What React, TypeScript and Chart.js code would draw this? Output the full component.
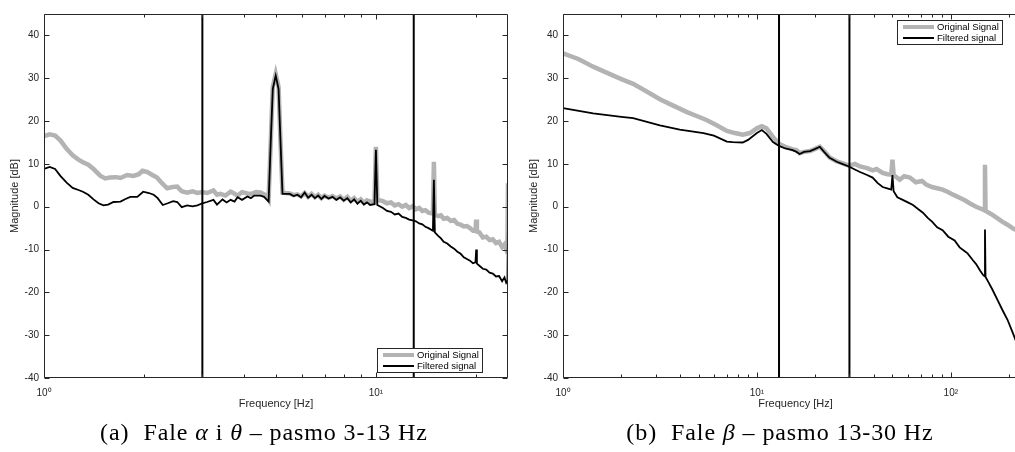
import React, { useEffect, useRef } from "react";
import { Chart, registerables } from "chart.js";

Chart.register(...registerables);

type Pt = [number, number];

// ---------- data (frequency [Hz], magnitude [dB]) ----------
const alphaOriginal: Pt[] = [
  [1.0, 16.5], [1.04, 16.9], [1.08, 16.6], [1.12, 15.5], [1.17, 13.5], [1.22, 12.0], [1.27, 11.0], [1.31, 10.4],
  [1.36, 9.8], [1.41, 8.8], [1.48, 7.2], [1.53, 6.6], [1.58, 6.8], [1.65, 6.9], [1.7, 6.7], [1.78, 7.4],
  [1.86, 7.2], [1.93, 7.6], [1.98, 8.4], [2.05, 8.1], [2.12, 7.4], [2.19, 6.8], [2.26, 5.6], [2.35, 4.3],
  [2.44, 4.6], [2.52, 4.7], [2.6, 3.6], [2.7, 3.3], [2.8, 3.6], [2.9, 3.2], [3.0, 3.4], [3.1, 3.2],
  [3.24, 3.8], [3.32, 2.8], [3.4, 3.0], [3.52, 2.6], [3.65, 3.5], [3.72, 3.2], [3.83, 2.6], [3.95, 3.4],
  [4.1, 3.1], [4.22, 3.0], [4.35, 3.4], [4.49, 3.3], [4.6, 2.9], [4.68, 2.7], [4.75, 1.8], [4.82, 15],
  [4.89, 28], [4.99, 31], [5.09, 28], [5.16, 15], [5.23, 3.3], [5.35, 3.2], [5.5, 3.1], [5.65, 2.7],
  [5.8, 2.9], [5.95, 2.4], [6.1, 3.2], [6.25, 2.3], [6.4, 3.0], [6.55, 2.2], [6.7, 2.8], [6.85, 2.0],
  [7.0, 2.6], [7.2, 2.1], [7.4, 2.5], [7.6, 1.9], [7.8, 2.4], [8.0, 1.6], [8.2, 2.3], [8.4, 1.4],
  [8.6, 2.0], [8.8, 1.1], [9.0, 1.7], [9.2, 0.9], [9.4, 1.5], [9.6, 1.2], [9.9, 1.0], [10.0, 14],
  [10.1, 1.6], [10.5, 1.3], [10.8, 0.8], [11.1, 1.0], [11.4, 0.3], [11.7, 0.6], [12.0, 0.0], [12.3, 0.4],
  [12.6, -0.3], [12.9, 0.1], [13.2, -0.6], [13.5, -0.3], [13.8, -1.0], [14.1, -0.8], [14.4, -1.4], [14.85, -1.6],
  [14.95, 10.5], [15.05, -1.8], [15.4, -2.2], [15.7, -2.0], [16.0, -2.8], [16.4, -2.6], [16.8, -3.3], [17.2, -3.1],
  [17.6, -4.0], [18.0, -4.2], [18.4, -4.6], [18.8, -4.5], [19.2, -5.0], [19.6, -5.6], [19.95, -5.5], [20.05, -3.0],
  [20.15, -5.8], [20.5, -6.0], [21.0, -7.2], [21.5, -7.0], [22.0, -7.8], [22.5, -7.6], [23.0, -8.5], [23.5, -8.2],
  [24.0, -9.4], [24.4, -8.8], [24.7, -10.0], [24.9, -9.5], [25.0, 5.5],
];

const alphaFiltered: Pt[] = [
  [1.0, 8.8], [1.04, 9.3], [1.08, 8.8], [1.12, 7.2], [1.17, 5.6], [1.22, 4.4], [1.27, 3.9], [1.31, 3.5],
  [1.36, 2.8], [1.41, 1.7], [1.46, 0.8], [1.51, 0.3], [1.56, 0.5], [1.62, 1.1], [1.7, 1.2], [1.76, 1.8],
  [1.82, 2.3], [1.91, 2.3], [1.99, 3.5], [2.07, 3.2], [2.14, 2.8], [2.2, 2.0], [2.28, 0.4], [2.36, 0.8],
  [2.45, 1.3], [2.52, 1.1], [2.6, -0.1], [2.7, 0.3], [2.8, 0.1], [2.9, 0.3], [3.0, 0.8], [3.1, 1.1],
  [3.24, 1.6], [3.32, 0.5], [3.45, 1.7], [3.55, 1.0], [3.65, 1.6], [3.75, 1.2], [3.83, 2.2], [3.95, 1.6],
  [4.1, 2.4], [4.2, 2.0], [4.3, 2.6], [4.49, 2.6], [4.6, 2.3], [4.68, 1.7], [4.75, 1.2], [4.82, 15],
  [4.89, 27.5], [4.99, 30.6], [5.09, 27.5], [5.16, 15], [5.23, 3.0], [5.35, 3.0], [5.5, 3.0], [5.65, 2.5],
  [5.8, 2.8], [5.95, 2.2], [6.1, 3.3], [6.25, 2.1], [6.4, 2.8], [6.55, 2.0], [6.7, 2.6], [6.85, 1.8],
  [7.0, 2.5], [7.2, 1.9], [7.4, 2.3], [7.6, 1.6], [7.8, 2.2], [8.0, 1.4], [8.2, 2.0], [8.4, 1.0],
  [8.6, 1.7], [8.8, 0.7], [9.0, 1.4], [9.2, 0.5], [9.4, 1.0], [9.6, 0.4], [9.9, 0.6], [10.0, 13.3],
  [10.1, 0.4], [10.5, -0.3], [10.8, -1.0], [11.1, -1.2], [11.4, -1.8], [11.7, -1.6], [12.0, -2.4], [12.3, -2.6],
  [12.6, -3.0], [12.9, -3.2], [13.2, -3.4], [13.5, -3.9], [13.8, -4.1], [14.1, -4.7], [14.4, -5.0], [14.85, -5.6],
  [14.95, 6.3], [15.05, -6.0], [15.4, -6.8], [15.7, -7.4], [16.0, -8.2], [16.4, -8.6], [16.8, -9.3], [17.2, -9.8],
  [17.6, -10.5], [18.0, -11.0], [18.4, -11.8], [18.8, -12.2], [19.2, -12.6], [19.6, -13.2], [19.95, -13.0], [20.05, -10.0],
  [20.15, -13.3], [20.5, -13.8], [21.0, -14.5], [21.5, -14.7], [22.0, -15.4], [22.5, -15.6], [23.0, -16.3], [23.5, -16.2],
  [24.0, -17.4], [24.4, -16.5], [24.7, -17.8], [24.9, -17.5], [25.0, -2.5],
];

const betaOriginal: Pt[] = [
  [1.0, 35.8], [1.2, 34.5], [1.43, 32.7], [1.7, 31.2], [2.0, 29.8], [2.3, 28.7], [2.7, 26.9], [3.16, 25.1],
  [3.7, 23.6], [4.36, 22.1], [5.0, 21.0], [5.53, 20.2], [6.2, 19.0], [7.0, 17.7], [7.7, 17.2], [8.45, 16.8],
  [9.2, 17.2], [10.0, 18.3], [10.6, 18.8], [11.2, 18.3], [12.1, 16.3], [13.0, 14.7], [14.0, 14.0], [15.3, 13.4],
  [16.0, 13.2], [16.6, 12.5], [17.5, 12.8], [18.8, 13.0], [20.0, 13.5], [21.1, 14.0], [22.2, 13.0], [23.7, 11.5],
  [25.8, 10.6], [27.5, 10.2], [29.8, 9.6], [32, 10.0], [34, 9.4], [37, 9.0], [39.5, 8.5], [41.4, 8.8],
  [44.5, 7.9], [47.1, 7.6], [49.3, 7.5], [50, 11.0], [50.7, 7.4], [54.5, 6.3], [57.5, 7.1], [61.5, 6.8],
  [66, 5.7], [71, 6.0], [75, 5.1], [80, 4.6], [85, 4.3], [90.7, 4.0], [96, 3.5], [104, 2.7],
  [111, 2.1], [118, 1.5], [125, 0.8], [135, 0.0], [145, -0.6], [149, -0.8], [150, 9.8], [151, -1.0],
  [157, -1.4], [164, -1.9], [175, -2.8], [184, -3.5], [196, -4.2], [208, -5.0], [216, -5.4], [230, -6.2],
  [250, -7.0],
];

const betaFiltered: Pt[] = [
  [1.0, 23.0], [1.43, 21.8], [2.0, 21.0], [2.3, 20.7], [3.16, 19.0], [4.0, 18.0], [5.3, 17.2], [6.0, 16.6],
  [7.0, 15.2], [7.5, 15.1], [8.45, 15.0], [9.0, 15.6], [10.0, 17.2], [10.6, 17.9], [11.2, 17.0], [12.1, 15.1],
  [13.0, 14.2], [14.0, 13.6], [15.3, 13.2], [16.0, 12.8], [16.6, 12.3], [17.5, 12.8], [18.8, 13.0], [20.0, 13.5],
  [21.1, 14.0], [22.2, 12.8], [23.7, 11.4], [25.8, 10.5], [27.5, 10.0], [29.8, 9.4], [32, 8.7], [34, 8.1],
  [37, 7.4], [39.5, 6.8], [42, 5.5], [44.5, 4.6], [47, 4.3], [49.3, 4.0], [50, 7.4], [50.7, 3.6],
  [53, 2.2], [56.5, 1.6], [60, 1.0], [63.8, 0.4], [68, -0.6], [71.8, -1.4], [76, -2.6], [80, -3.5],
  [85, -4.8], [90.7, -5.5], [97, -7.0], [104.6, -7.9], [111, -9.5], [118, -10.4], [122, -10.9], [130, -12.5],
  [135, -13.4], [142, -15.0], [147, -16.0], [149, -16.2], [150, -5.3], [151, -16.4], [157, -17.8], [164, -19.4],
  [175, -22.0], [184, -24.0], [196, -26.4], [208, -29.3], [216, -31.2], [230, -34.5], [250, -38.5],
];

const alphaBand = [3, 13];
const betaBand = [13, 30];
const alphaRange = [1, 25];
const betaRange = [1, 250];
const yRange = [-40, 45];
const yTickValues = [-40, -30, -20, -10, 0, 10, 20, 30, 40];
const alphaDecades = [1, 10];
const betaDecades = [1, 10, 100];
const decadeLabels = ["10\u2070", "10\u00B9", "10\u00B2"];
const legendLabels = ["Original Signal", "Filtered signal"];
const xTitle = "Frequency [Hz]";
const yTitle = "Magnitude [dB]";

// ---------- styling ----------
const FONT = "'Liberation Sans', Arial, Helvetica, sans-serif";
const INK = "#262626";
const GRAY = "#b3b3b3";

const toXY = (pts: Pt[]) => pts.map(([x, y]) => ({ x, y }));

const framePlugin = {
  id: "matlabFrame",
  afterDatasetsDraw(chart: any) {
    const { ctx, chartArea: ca, scales } = chart;
    const xs = scales.x;
    const ys = scales.y;
    ctx.save();
    ctx.strokeStyle = INK;
    ctx.lineWidth = 1;
    const L = Math.round(ca.left) + 0.5;
    const R = Math.round(ca.right) - 0.5;
    const T = Math.round(ca.top) + 0.5;
    const B = Math.round(ca.bottom) - 0.5;
    ctx.beginPath();
    ctx.rect(L, T, R - L, B - T);
    for (const v of yTickValues) {
      const p = Math.round(ys.getPixelForValue(v)) + 0.5;
      ctx.moveTo(L, p);
      ctx.lineTo(L + 5, p);
      ctx.moveTo(R, p);
      ctx.lineTo(R - 5, p);
    }
    const lo = xs.min;
    const hi = xs.max;
    for (let d = Math.floor(Math.log10(lo)); Math.pow(10, d) <= hi; d++) {
      for (let k = 1; k <= 9; k++) {
        const v = k * Math.pow(10, d);
        if (v < lo || v > hi) continue;
        const p = Math.round(xs.getPixelForValue(v)) + 0.5;
        const len = k === 1 ? 5 : 3;
        ctx.moveTo(p, B);
        ctx.lineTo(p, B - len);
        ctx.moveTo(p, T);
        ctx.lineTo(p, T + len);
      }
    }
    ctx.stroke();
    ctx.restore();
  },
};

const legendPlugin = {
  id: "boxLegend",
  afterDraw(chart: any, _args: any, opts: any) {
    const { ctx, chartArea: ca } = chart;
    const w = 106;
    const h = 25;
    const x0 = Math.round(ca.right - 25 - w);
    const y0 = opts.corner === "se" ? Math.round(ca.bottom - 5 - h) : Math.round(ca.top + 6);
    ctx.save();
    ctx.fillStyle = "#fff";
    ctx.fillRect(x0, y0, w, h);
    ctx.strokeStyle = INK;
    ctx.lineWidth = 1;
    ctx.strokeRect(x0 + 0.5, y0 + 0.5, w - 1, h - 1);
    ctx.font = `9.5px ${FONT}`;
    ctx.textBaseline = "middle";
    ctx.textAlign = "left";
    legendLabels.forEach((label, i) => {
      const cy = y0 + 7 + i * 11;
      ctx.strokeStyle = i === 0 ? GRAY : "#000";
      ctx.lineWidth = i === 0 ? 4 : 2;
      ctx.beginPath();
      ctx.moveTo(x0 + 6, cy);
      ctx.lineTo(x0 + 37, cy);
      ctx.stroke();
      ctx.fillStyle = "#000";
      ctx.fillText(label, x0 + 40, cy + 0.5);
    });
    ctx.restore();
  },
};

type PanelProps = {
  original: Pt[];
  filtered: Pt[];
  band: number[];
  range: number[];
  decades: number[];
  corner: string;
  left: number;
  width: number;
};

function Panel({ original, filtered, band, range, decades, corner, left, width }: PanelProps) {
  const ref = useRef<HTMLCanvasElement>(null);
  useEffect(() => {
    if (!ref.current) return;
    const bandSets = band.map((f) => ({
      label: `cut ${f}`,
      data: [
        { x: f, y: yRange[0] },
        { x: f, y: yRange[1] },
      ],
      borderColor: "#000",
      borderWidth: 2,
      pointRadius: 0,
      order: 1,
    }));
    const chart = new Chart(ref.current, {
      type: "line",
      data: {
        datasets: [
          {
            label: legendLabels[1],
            data: toXY(filtered),
            borderColor: "#000",
            borderWidth: 1.8,
            pointRadius: 0,
            tension: 0,
            order: 0,
          },
          ...bandSets,
          {
            label: legendLabels[0],
            data: toXY(original),
            borderColor: GRAY,
            borderWidth: 4.5,
            pointRadius: 0,
            tension: 0,
            order: 3,
          },
        ],
      },
      options: {
        animation: false,
        responsive: false,
        devicePixelRatio: 1,
        layout: { padding: { left: 0, top: 14, right: 7, bottom: 0 } },
        plugins: {
          legend: { display: false },
          tooltip: { enabled: false },
          boxLegend: { corner },
        } as any,
        scales: {
          x: {
            type: "logarithmic",
            min: range[0],
            max: range[1],
            grid: { display: false, drawTicks: false },
            border: { display: false },
            afterBuildTicks: (s: any) => {
              s.ticks = decades.map((v) => ({ value: v }));
            },
            afterFit: (s: any) => {
              s.height = 42;
            },
            ticks: {
              autoSkip: false,
              maxRotation: 0,
              padding: 9,
              color: INK,
              font: { family: FONT, size: 10 },
              callback: (v: any) => decadeLabels[Math.round(Math.log10(Number(v)))],
            },
            title: {
              display: true,
              text: xTitle,
              color: INK,
              font: { family: FONT, size: 11 },
              padding: { top: 0, bottom: 9 },
            },
          },
          y: {
            type: "linear",
            min: yRange[0],
            max: yRange[1],
            grid: { display: false, drawTicks: false },
            border: { display: false },
            afterBuildTicks: (s: any) => {
              s.ticks = yTickValues.map((v) => ({ value: v }));
            },
            afterFit: (s: any) => {
              s.width = 44;
            },
            ticks: {
              padding: 5,
              color: INK,
              font: { family: FONT, size: 10 },
            },
            title: {
              display: true,
              text: yTitle,
              color: INK,
              font: { family: FONT, size: 11 },
              padding: { top: 8, bottom: 0 },
            },
          },
        },
      } as any,
      plugins: [framePlugin, legendPlugin],
    });
    return () => chart.destroy();
  }, []);
  return (
    <canvas
      ref={ref}
      width={width}
      height={420}
      style={{ position: "absolute", left, top: 0, width, height: 420 }}
    />
  );
}

const captionStyle: React.CSSProperties = {
  position: "absolute",
  top: 418,
  width: 560,
  textAlign: "center",
  fontFamily: "'Liberation Serif', 'DejaVu Serif', serif",
  fontSize: 24,
  letterSpacing: "0.9px",
  lineHeight: "28px",
  color: "#000",
  whiteSpace: "nowrap",
};

export default function App() {
  return (
    <div
      style={{
        position: "fixed",
        left: 0,
        top: 0,
        width: 1015,
        height: 452,
        overflow: "hidden",
        background: "#fff",
      }}
    >
      <Panel
        original={alphaOriginal}
        filtered={alphaFiltered}
        band={alphaBand}
        range={alphaRange}
        decades={alphaDecades}
        corner="se"
        left={0}
        width={515}
      />
      <Panel
        original={betaOriginal}
        filtered={betaFiltered}
        band={betaBand}
        range={betaRange}
        decades={betaDecades}
        corner="ne"
        left={519}
        width={516}
      />
      <div style={{ ...captionStyle, left: 264 - 280 }}>
        (a)<span style={{ marginLeft: 14 }}>Fale <i>α</i> i <i>θ</i> – pasmo 3-13 Hz</span>
      </div>
      <div style={{ ...captionStyle, left: 780 - 280 }}>
        (b)<span style={{ marginLeft: 14 }}>Fale <i>β</i> – pasmo 13-30 Hz</span>
      </div>
    </div>
  );
}
